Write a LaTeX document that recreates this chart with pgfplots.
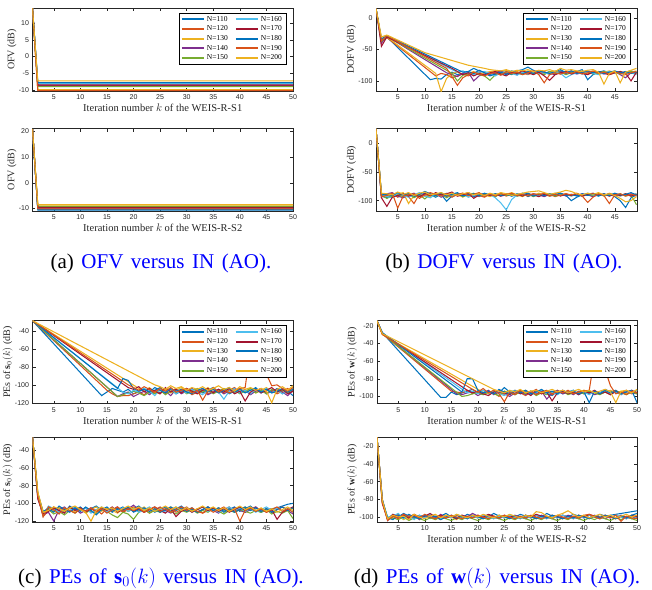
\documentclass[border=0pt]{standalone}
\usepackage{pgfplots}
\pgfplotsset{compat=1.18}
\usepackage{pgfplotstable}
\usepackage{fontspec}
\setmainfont{Liberation Serif}
\newfontfamily\ticksans{Liberation Sans}

\definecolor{c1}{rgb}{0,0.447,0.741}
\definecolor{c2}{rgb}{0.85,0.325,0.098}
\definecolor{c3}{rgb}{0.929,0.694,0.125}
\definecolor{c4}{rgb}{0.494,0.184,0.556}
\definecolor{c5}{rgb}{0.466,0.674,0.188}
\definecolor{c6}{rgb}{0.301,0.745,0.933}
\definecolor{c7}{rgb}{0.635,0.078,0.184}
\definecolor{gray15}{rgb}{0.15,0.15,0.15}

% columns: k, N=110 ... N=200
\pgfplotstableread{
k a b c d e f g h i j
1 14.5 14.5 14.5 14.5 14.5 14.5 14.5 14.5 14.5 14.5
2 -8.2 -10.1 -9.9 -8.7 -9.0 -8.1 -8.5 -7.8 -10.2 -7.3
50 -8.2 -10.1 -9.9 -8.7 -9.0 -8.1 -8.5 -7.8 -10.2 -7.3
}\tblAa

\pgfplotstableread{
k a b c d e f g h i j
1 21 21 21 21 21 21 21 21 21 21
2 -10.6 -10.0 -8.7 -9.9 -9.2 -10.4 -9.6 -10.5 -10.2 -8.5
50 -10.6 -10.0 -8.7 -9.9 -9.2 -10.4 -9.6 -10.5 -10.2 -8.5
}\tblAb

\pgfplotstableread{
k a b c d e f g h i j
1 15 15 15 15 15 15 15 15 15 15
2 -38 -36 -35 -40 -37 -34 -45 -33 -36 -30
3 -30 -31 -30 -29 -29 -28 -30 -28 -28 -27
10 nan nan nan nan nan nan nan nan nan -55
11 -98 nan nan nan nan nan nan nan nan nan
12 -96 -92 -88 nan nan nan nan nan nan nan
13 -97 -88 -117 nan nan nan nan nan nan nan
14 -90 -90 -96 -87 nan nan nan nan -80 nan
15 -86 -95 -88 -90 -88 -82 -80 nan -93 nan
16 -90 -92 -86 -93 -100 -86 -85 -82 -107 nan
17 -88 -89 -90 -88 -91 -84 -90 -86 -95 nan
18 -85 -92 -88 -86 -89 -88 -87 -85 -90 -75
19 -80 -88 -85 -100 -87 -90 -92 -88 -86 nan
20 -84 -86 -90 -92 -90 -86 -88 -83 -89 nan
21 -86 -90 -87 -89 -92 -85 -91 -87 -92 -80
22 -90 -88 -85 -91 -99 -88 -87 -92 -88 -82
23 -88 -86 -84 -87 -90 -92 -85 -89 -87 -83
24 -85 -90 -86 -84 -88 -87 -89 -86 -91 -84
25 -87 -88 -83 -89 -86 -85 -92 -90 -85 -82
26 -90 -85 -87 -86 -89 -88 -86 -84 -88 -85
27 -84 -89 -85 -90 -87 -91 -88 -87 -86 -83
28 -82 -87 -88 -85 -90 -86 -84 -89 -90 -84
29 -78 -90 -84 -88 -86 -89 -87 -85 -87 -82
30 -83 -86 -87 -84 -89 -85 -90 -88 -84 -85
31 -86 -88 -85 -89 -87 -88 -86 -84 -90 -83
32 -88 -85 -89 -86 -90 -87 -92 -86 -103 -84
33 -85 -90 -86 -88 -85 -89 -99 -88 -90 -82
34 -87 -86 -84 -90 -88 -86 -90 -85 -87 -85
35 -84 -89 -87 -85 -86 -88 -87 -82 -89 -80
36 -86 -87 -85 -88 -90 -95 -85 -87 -86 -83
37 -88 -84 -88 -86 -87 -90 -89 -84 -88 -82
38 -85 -88 -86 -89 -85 -87 -86 -88 -85 -84
39 -82 -86 -84 -87 -88 -89 -88 -86 -89 -85
40 -98 -89 -87 -85 -86 -86 -90 -84 -87 -83
41 -90 -85 -85 -88 -89 -88 -86 -87 -84 -82
42 -86 -88 -88 -86 -87 -90 -85 -85 -88 -86
43 -84 -86 -86 -89 -85 -87 -88 -88 -86 -105
44 -87 -90 -84 -87 -88 -85 -90 -86 -89 -88
45 -85 -87 -87 -85 -86 -88 -87 -84 -86 -84
46 -88 -85 -85 -90 -89 -86 -85 -87 -88 -103
47 -86 -88 -88 -95 -87 -89 -88 -85 -90 -86
48 -84 -86 -86 -87 -85 -87 -100 -88 -87 -83
49 -87 -89 -84 -86 -88 -90 -86 -86 -85 -80
}\tblBa

\pgfplotstableread{
k a b c d e f g h i j
1 25 25 25 25 25 25 25 25 25 25
2 -92 -90 -88 -94 -91 -89 -95 -90 -93 -87
3 -95 -92 -90 -88 -96 -93 -110 -89 -91 -88
4 -90 -88 -93 -86 -92 -95 -94 -91 -87 -90
5 -88 -94 -89 -92 -90 -87 -91 -86 -113 -85
6 -92 -90 -86 -95 -93 -91 -88 -90 -92 -89
7 -89 -93 -105 -90 -88 -94 -92 -87 -90 -86
8 -93 -105 -91 -87 -95 -90 -89 -92 -88 -91
9 -91 -89 -88 -93 -90 -86 -93 -89 -96 -87
10 -87 -92 -90 -89 -97 -92 -88 -84 -90 -85
11 -90 -88 -93 -91 -89 -95 -91 -88 -86 -90
12 -94 -91 -87 -88 -92 -89 -86 -91 -89 -88
13 -89 -87 -90 -94 -88 -92 -90 -86 -92 -86
14 -101 -93 -88 -90 -95 -87 -88 -92 -88 -90
15 -92 -88 -91 -87 -90 -93 -85 -89 -94 -87
16 -88 -90 -89 -92 -88 -90 -92 -86 -89 -91
17 -91 -87 -94 -89 -93 -88 -90 -92 -87 -88
18 -89 -92 -88 -86 -90 -94 -87 -89 -91 -86
19 -93 -89 -91 -90 -87 -91 -96 -88 -89 -90
20 -90 -91 -87 -93 -92 -88 -90 -91 -86 -88
21 -88 -94 -90 -88 -89 -92 -88 -87 -93 -91
22 -92 -88 -93 -91 -90 -89 -91 -90 -89 -87
23 -89 -90 -88 -89 -93 -95 -89 -88 -92 -90
24 -91 -87 -91 -92 -88 -104 -92 -91 -88 -86
25 -88 -92 -89 -90 -91 -116 -88 -89 -90 -88
26 -92 -89 -86 -88 -89 -98 -91 -92 -87 -91
27 -90 -91 -90 -92 -92 -90 -89 -88 -91 -89
28 -87 -88 -93 -89 -90 -88 -92 -90 -89 -87
29 -93 -90 -88 -91 -88 -91 -88 -87 -92 -85
30 -89 -92 -91 -88 -93 -89 -90 -92 -88 -84
31 -91 -88 -87 -90 -89 -92 -93 -89 -90 -83
32 -88 -91 -90 -93 -91 -88 -89 -91 -87 -86
33 -92 -89 -92 -89 -88 -90 -91 -88 -92 -89
34 -90 -93 -88 -91 -92 -87 -88 -90 -89 -87
35 -87 -90 -91 -88 -90 -91 -92 -87 -91 -85
36 -91 -88 -89 -92 -89 -89 -89 -91 -88 -82
37 -100 -91 -92 -89 -91 -92 -91 -89 -90 -84
38 -94 -89 -88 -91 -88 -88 -88 -92 -87 -88
39 -90 -92 -91 -88 -92 -91 -92 -88 -92 -90
40 -88 -90 -89 -90 -89 -87 -89 -91 -103 -87
41 -92 -88 -92 -93 -91 -90 -87 -89 -94 -89
42 -89 -91 -88 -89 -88 -92 -91 -92 -88 -86
43 -91 -89 -91 -91 -92 -89 -88 -88 -91 -90
44 -88 -92 -87 -88 -89 -91 -92 -91 -105 -88
45 -93 -88 -90 -92 -91 -88 -89 -87 -90 -91
46 -100 -91 -92 -89 -88 -92 -91 -90 -88 -96
47 -112 -89 -88 -91 -92 -89 -88 -89 -92 -102
48 -95 -92 -91 -88 -90 -91 -92 -86 -89 -100
49 -90 -88 -89 -92 -107 -88 -89 -90 -91 -93
}\tblBb

\pgfplotstableread{
k a b c d e f g h i j
1 -28.5 -28.5 -28.5 -28.5 -28.5 -28.5 -28.5 -28.5 -28.5 -28.5
14 -112 nan nan nan nan nan nan nan nan nan
15 -108 -106 nan nan nan nan nan nan nan nan
16 -104 -110 nan nan nan nan nan nan nan nan
17 -106 -113 nan -113 -113 nan nan -104 nan nan
18 -108 -112 nan -110 -111 -108 nan -93 nan nan
19 -105 -112 nan -108 -109 -110 -103 -95 -100 nan
20 -110 -110 nan -113 -107 -106 -105 -104 -103 nan
21 -107 -108 -104 -110 -109 -108 -102 -107 -106 nan
22 -104 -111 -107 -107 -112 -104 -108 -105 -102 nan
23 -109 -106 -103 -111 -108 -107 -104 -108 -105 nan
24 -106 -109 -108 -106 -110 -112 -107 -103 -108 -100
25 -103 -105 -110 -109 -106 -105 -110 -106 -104 -102
26 -108 -110 -104 -107 -111 -108 -103 -109 -107 -105
27 -105 -107 -109 -112 -107 -104 -108 -104 -103 -101
28 -110 -104 -106 -105 -109 -110 -105 -107 -108 -104
29 -107 -109 -103 -110 -105 -106 -109 -105 -106 -102
30 -104 -106 -108 -107 -110 -109 -104 -108 -104 -106
31 -108 -111 -105 -104 -107 -105 -107 -110 -109 -103
32 -105 -108 -110 -109 -104 -108 -110 -106 -106 -105
33 -109 -104 -107 -106 -108 -111 -106 -104 -117 -102
34 -106 -110 -103 -111 -105 -106 -104 -108 -107 -106
35 -103 -107 -108 -108 -110 -103 -109 -105 -103 -104
36 -108 -105 -106 -105 -107 -108 -105 -109 -108 -101
37 -105 -109 -110 -110 -104 -116 -108 -106 -105 -105
38 -110 -106 -104 -107 -109 -107 -104 -103 -109 -103
39 -107 -103 -109 -104 -106 -104 -110 -108 -106 -107
40 -104 -108 -105 -109 -110 -109 -107 -105 -104 -102
41 -108 -105 -108 -106 -107 -106 -118 -109 -103 -105
42 -106 -110 -104 -111 -104 -110 -108 -106 -60 -103
43 -103 -107 -109 -107 -109 -105 -105 -104 -55 -106
44 -109 -104 -106 -104 -106 -108 -109 -108 -60 -104
45 -105 -109 -103 -110 -110 -104 -106 -105 -88 -107
46 -108 -106 -108 -107 -105 -109 -103 -109 -101 -120
47 -104 -110 -105 -105 -108 -106 -108 -107 -100 -105
48 -110 -107 -109 -108 -106 -110 -105 -104 -104 -102
49 -107 -104 -106 -112 -109 -107 -110 -108 -107 -106
50 -112 -108 -104 -106 -105 -104 -107 -105 -103 -101
}\tblCa

\pgfplotstableread{
k a b c d e f g h i j
1 -25 -25 -25 -25 -25 -25 -25 -25 -25 -25
2 -92 -90 -88 -94 -91 -93 -95 -89 -92 -87
3 -112 -115 -110 -113 -111 -114 -112 -109 -115 -110
4 -104 -108 -105 -110 -107 -103 -109 -106 -104 -108
5 -108 -104 -109 -120 -112 -106 -105 -110 -107 -104
6 -105 -111 -104 -107 -109 -110 -108 -103 -112 -106
7 -110 -106 -108 -104 -113 -105 -111 -107 -105 -109
8 -103 -109 -105 -109 -108 -108 -104 -110 -108 -105
9 -107 -104 -110 -106 -111 -104 -108 -105 -111 -103
10 -104 -108 -106 -111 -106 -109 -105 -109 -106 -107
11 -109 -105 -111 -108 -110 -105 -110 -104 -109 -110
12 -106 -110 -107 -105 -108 -111 -106 -108 -105 -120
13 -103 -107 -104 -109 -112 -107 -109 -113 -110 -108
14 -108 -112 -109 -106 -107 -104 -105 -107 -106 -104
15 -105 -106 -105 -110 -109 -110 -108 -104 -111 -107
16 -110 -109 -108 -107 -113 -106 -104 -109 -107 -105
17 -107 -105 -111 -104 -116 -108 -110 -106 -104 -109
18 -104 -110 -106 -109 -110 -105 -107 -108 -109 -106
19 -109 -107 -109 -106 -112 -109 -105 -104 -106 -103
20 -106 -104 -105 -102 -118 -106 -109 -110 -108 -107
21 -103 -109 -108 -107 -110 -110 -106 -107 -105 -104
22 -108 -106 -104 -110 -107 -107 -110 -105 -110 -108
23 -105 -111 -109 -106 -111 -104 -107 -109 -107 -105
24 -110 -107 -106 -109 -108 -109 -104 -106 -104 -109
25 -107 -104 -110 -105 -110 -106 -108 -110 -109 -106
26 -104 -108 -107 -108 -106 -110 -111 -107 -106 -103
27 -109 -105 -104 -111 -109 -107 -106 -104 -110 -107
28 -106 -110 -108 -107 -112 -104 -115 -108 -107 -104
29 -103 -107 -105 -104 -108 -108 -109 -105 -104 -108
30 -108 -104 -109 -109 -110 -105 -106 -109 -108 -105
31 -105 -109 -106 -106 -107 -110 -110 -106 -105 -109
32 -110 -106 -110 -110 -111 -107 -107 -110 -109 -106
33 -107 -111 -107 -107 -108 -104 -104 -107 -111 -103
34 -104 -108 -104 -104 -110 -109 -108 -104 -106 -107
35 -108 -105 -108 -108 -106 -106 -105 -108 -110 -104
36 -105 -110 -105 -111 -109 -110 -109 -105 -107 -108
37 -110 -107 -109 -106 -112 -107 -106 -109 -104 -105
38 -107 -104 -106 -109 -108 -104 -110 -106 -109 -109
39 -104 -109 -110 -105 -110 -108 -107 -110 -106 -106
40 -109 -106 -107 -108 -107 -105 -104 -107 -120 -103
41 -106 -110 -104 -110 -109 -109 -108 -104 -108 -107
42 -103 -107 -108 -107 -111 -106 -105 -108 -105 -104
43 -108 -104 -105 -104 -108 -110 -109 -105 -109 -108
44 -110 -109 -109 -109 -110 -107 -106 -109 -106 -105
45 -107 -106 -106 -106 -107 -104 -110 -106 -110 -109
46 -106 -110 -110 -110 -112 -108 -107 -110 -107 -106
47 -105 -107 -107 -107 -109 -105 -118 -107 -104 -110
48 -103 -104 -104 -104 -111 -109 -110 -104 -109 -107
49 -101 -108 -108 -108 -108 -106 -107 -108 -106 -104
50 -100 -105 -105 -112 -117 -110 -104 -105 -110 -108
}\tblCb

\pgfplotstableread{
k a b c d e f g h i j
1 -14.5 -14.5 -14.5 -14.5 -14.5 -14.5 -14.5 -14.5 -14.5 -14.5
2 -28 -29 -30 -28 -29 -28 -29 -28 -30 -29
13 -101 nan nan nan nan nan nan nan nan nan
14 -101 nan nan nan nan nan nan nan nan nan
15 -95 -94 nan nan nan nan nan nan nan nan
16 -98 -95 nan -97 nan nan nan nan nan nan
17 -96 -96 nan -98 -100 nan nan -95 nan nan
18 -94 -93 nan -96 -99 -96 -93 -80 nan nan
19 -92 -97 nan -95 -97 -94 -96 -80 -92 nan
20 -96 -95 -92 -99 -96 -97 -94 -93 -95 nan
21 -93 -98 -95 -96 -98 -93 -97 -96 -91 nan
22 -97 -94 -97 -93 -95 -96 -99 -94 -96 nan
23 -94 -96 -93 -98 -97 -94 -95 -97 -93 -92
24 -96 -100 -96 -95 -99 -97 -93 -92 -97 -94
25 -90 -94 -98 -97 -94 -99 -96 -95 -106 -96
26 -95 -97 -94 -100 -96 -95 -98 -97 -95 -93
27 -98 -93 -97 -96 -98 -93 -94 -94 -98 -95
28 -93 -96 -95 -94 -95 -97 -97 -96 -93 -92
29 -96 -99 -93 -98 -97 -94 -95 -93 -96 -96
30 -94 -95 -96 -95 -94 -98 -99 -97 -94 -94
31 -97 -92 -98 -97 -99 -96 -93 -95 -98 -93
32 -93 -97 -94 -94 -96 -93 -97 -92 -95 -96
33 -96 -94 -97 -103 -98 -97 -95 -96 -93 -94
34 -99 -98 -95 -96 -95 -95 -105 -94 -97 -92
35 -94 -95 -93 -93 -97 -98 -96 -97 -94 -95
36 -97 -93 -96 -97 -94 -94 -94 -93 -96 -93
37 -95 -96 -94 -95 -98 -96 -97 -96 -93 -96
38 -93 -94 -97 -98 -96 -93 -95 -94 -97 -94
39 -98 -97 -95 -94 -95 -97 -98 -97 -95 -92
40 -95 -93 -93 -97 -97 -95 -94 -95 -94 -95
41 -97 -96 -96 -95 -94 -98 -96 -107 -93 -93
42 -94 -94 -94 -98 -96 -94 -93 -94 -55 -96
43 -96 -97 -97 -96 -98 -96 -97 -97 -55 -94
44 -92 -95 -95 -93 -95 -93 -95 -93 -70 -92
45 -95 -98 -93 -97 -97 -97 -98 -96 -88 -95
46 -93 -94 -96 -95 -94 -95 -94 -94 -97 -107
47 -97 -96 -94 -98 -96 -98 -97 -97 -95 -94
48 -94 -93 -97 -94 -98 -94 -95 -95 -98 -93
49 -96 -97 -95 -96 -95 -96 -93 -93 -94 -96
50 -93 -95 -93 -97 -97 -93 -96 -107 -96 -92
}\tblDa

\pgfplotstableread{
k a b c d e f g h i j
1 -9.5 -9.5 -9.5 -9.5 -9.5 -9.5 -9.5 -9.5 -9.5 -9.5
2 -82 -80 -84 -81 -83 -82 -85 -80 -83 -81
3 -102 -103 -101 -104 -102 -100 -103 -101 -104 -102
4 -97 -100 -102 -98 -101 -99 -97 -103 -99 -98
5 -100 -97 -99 -101 -103 -96 -100 -98 -102 -100
6 -96 -101 -103 -97 -100 -102 -98 -101 -97 -99
7 -99 -98 -100 -102 -104 -99 -101 -97 -100 -103
8 -101 -102 -97 -99 -101 -103 -97 -100 -98 -97
9 -98 -99 -101 -103 -102 -98 -100 -102 -101 -100
10 -100 -101 -98 -98 -104 -101 -99 -98 -97 -102
11 -97 -98 -102 -100 -101 -97 -96 -101 -100 -99
12 -101 -100 -99 -102 -103 -100 -100 -99 -102 -97
13 -99 -103 -101 -97 -100 -102 -98 -103 -99 -101
14 -96 -99 -98 -101 -102 -99 -101 -100 -101 -98
15 -100 -101 -100 -99 -104 -101 -99 -98 -98 -100
16 -98 -98 -103 -102 -101 -97 -102 -101 -100 -97
17 -101 -100 -99 -98 -103 -100 -98 -99 -102 -99
18 -97 -102 -101 -100 -100 -102 -100 -102 -99 -101
19 -99 -99 -98 -96 -102 -99 -101 -98 -101 -98
20 -101 -101 -100 -99 -104 -101 -98 -100 -98 -100
21 -98 -98 -102 -101 -101 -98 -100 -102 -100 -97
22 -100 -100 -99 -98 -103 -100 -97 -99 -102 -99
23 -96 -102 -101 -100 -100 -102 -99 -101 -99 -101
24 -99 -99 -98 -102 -102 -99 -101 -98 -101 -98
25 -101 -101 -100 -99 -104 -101 -98 -100 -98 -100
26 -98 -98 -102 -101 -101 -98 -100 -102 -100 -97
27 -100 -100 -99 -98 -103 -100 -99 -99 -102 -99
28 -97 -102 -101 -100 -100 -102 -101 -101 -99 -101
29 -99 -99 -98 -102 -102 -99 -98 -98 -101 -98
30 -101 -101 -100 -99 -104 -101 -100 -100 -98 -100
31 -98 -98 -102 -101 -101 -98 -97 -102 -100 -94
32 -100 -100 -99 -98 -103 -100 -99 -99 -102 -95
33 -96 -102 -101 -100 -100 -102 -101 -101 -99 -99
34 -99 -99 -98 -102 -102 -99 -98 -98 -101 -101
35 -101 -101 -100 -99 -104 -101 -100 -100 -98 -98
36 -98 -98 -102 -101 -101 -98 -102 -102 -100 -96
37 -100 -100 -99 -98 -103 -100 -99 -99 -102 -93
38 -97 -102 -101 -100 -100 -102 -101 -101 -99 -97
39 -99 -99 -98 -102 -102 -99 -98 -98 -101 -100
40 -101 -101 -100 -99 -104 -101 -100 -100 -98 -98
41 -98 -98 -102 -101 -101 -98 -97 -102 -97 -101
42 -100 -100 -99 -98 -103 -100 -99 -99 -100 -99
43 -97 -102 -101 -100 -100 -102 -101 -101 -102 -97
44 -99 -99 -98 -102 -102 -99 -98 -98 -99 -100
45 -98 -101 -100 -99 -104 -101 -100 -100 -101 -98
46 -97 -98 -102 -101 -101 -98 -102 -102 -98 -101
47 -96 -100 -99 -98 -103 -100 -99 -99 -105 -99
48 -95 -102 -101 -100 -100 -102 -101 -101 -99 -97
49 -94 -99 -98 -102 -102 -99 -98 -98 -101 -100
50 -93 -101 -100 -99 -104 -101 -100 -96 -102 -98
}\tblDb

\newcommand\drawall[1]{%
  \addplot[c1,forget plot] table[y index=1]{#1};
  \addplot[c2,forget plot] table[y index=2]{#1};
  \addplot[c3,forget plot] table[y index=3]{#1};
  \addplot[c4,forget plot] table[y index=4]{#1};
  \addplot[c5,forget plot] table[y index=5]{#1};
  \addplot[c6,forget plot] table[y index=6]{#1};
  \addplot[c7,forget plot] table[y index=7]{#1};
  \addplot[c1,forget plot] table[y index=8]{#1};
  \addplot[c2,forget plot] table[y index=9]{#1};
  \addplot[c3,forget plot] table[y index=10]{#1};
}
\newcommand\legendall{%
  \addlegendimage{c1}\addlegendentry{N=110}
  \addlegendimage{c6}\addlegendentry{N=160}
  \addlegendimage{c2}\addlegendentry{N=120}
  \addlegendimage{c7}\addlegendentry{N=170}
  \addlegendimage{c3}\addlegendentry{N=130}
  \addlegendimage{c1}\addlegendentry{N=180}
  \addlegendimage{c4}\addlegendentry{N=140}
  \addlegendimage{c2}\addlegendentry{N=190}
  \addlegendimage{c5}\addlegendentry{N=150}
  \addlegendimage{c3}\addlegendentry{N=200}
}

\pgfplotsset{
  panel/.style={
    scale only axis, width=260.5pt, height=83pt,
    xmin=1, xmax=50, xtick={5,10,...,50},
    axis line style={gray15, line width=0.5pt},
    every tick/.style={gray15, line width=0.5pt},
    major tick length=3pt,
    tick label style={font=\ticksans\fontsize{7}{8}\selectfont, text=gray15},
    /pgf/number format/assume math mode=true,
    xlabel style={font=\fontsize{10.5}{12}\selectfont, text=gray15, yshift=2pt},
    ylabel style={font=\fontsize{10}{12}\selectfont, text=gray15, yshift=-4.5pt},
    every axis plot/.append style={line width=1.05pt, mark=none},
    legend cell align=left, legend columns=2,
    legend image code/.code={\draw[#1,line width=2pt] (0pt,0pt) -- (22pt,0pt);},
    legend style={draw=black, line width=0.5pt, fill=white,
      font=\fontsize{7.5}{8}\selectfont, inner xsep=2pt, inner ysep=1.5pt,
      row sep=-0.9pt,
      /tikz/every even column/.append style={column sep=5pt},
      at={(1,1)}, anchor=north east, xshift=-7pt, yshift=-4.5pt},
  },
}

\begin{document}
\begin{tikzpicture}
\path[use as bounding box] (0pt,0pt) rectangle (652pt,-589pt);

% (a)
\begin{axis}[panel, at={(32.5pt,-8pt)}, anchor=north west,
  ymin=-10.3, ymax=14.5, ytick={-10,-5,0,5,10},
  xlabel={Iteration number $k$ of the WEIS-R-S1}, ylabel={OFV (dB)}]
\drawall{\tblAa}
\legendall
\end{axis}
\begin{axis}[panel, at={(32.5pt,-128.5pt)}, anchor=north west, height=82.5pt,
  ymin=-11, ymax=21.2, ytick={-10,0,10,20},
  xlabel={Iteration number $k$ of the WEIS-R-S2}, ylabel={OFV (dB)}]
\drawall{\tblAb}
\end{axis}

% (b)
\begin{axis}[panel, at={(376pt,-8pt)}, anchor=north west, width=261pt,
  xmax=49.1, xtick={5,10,...,45},
  ymin=-116, ymax=16, ytick={-100,-50,0},
  xlabel={Iteration number $k$ of the WEIS-R-S1}, ylabel={DOFV (dB)}]
\drawall{\tblBa}
\legendall
\end{axis}
\begin{axis}[panel, at={(376pt,-128.5pt)}, anchor=north west, width=261pt, height=82.5pt,
  xmax=49.1, xtick={5,10,...,45},
  ymin=-118, ymax=25.5, ytick={-100,-50,0},
  xlabel={Iteration number $k$ of the WEIS-R-S2}, ylabel={DOFV (dB)}]
\drawall{\tblBb}
\end{axis}

% (c)
\begin{axis}[panel, at={(32.5pt,-320.7pt)}, anchor=north west,
  ymin=-121, ymax=-28.5, ytick={-120,-100,...,-40},
  xlabel={Iteration number $k$ of the WEIS-R-S1}, ylabel={PEs of $\mathbf{s}_0(k)$ (dB)}]
\drawall{\tblCa}
\legendall
\end{axis}
\begin{axis}[panel, at={(32.5pt,-437pt)}, anchor=north west, height=85pt,
  ymin=-121, ymax=-25.2, ytick={-120,-100,...,-40},
  xlabel={Iteration number $k$ of the WEIS-R-S2}, ylabel={PEs of $\mathbf{s}_0(k)$ (dB)}]
\drawall{\tblCb}
\end{axis}

% (d)
\begin{axis}[panel, at={(377pt,-320.7pt)}, anchor=north west, width=260pt,
  ymin=-108.2, ymax=-14.4, ytick={-100,-80,...,-20},
  xlabel={Iteration number $k$ of the WEIS-R-S1}, ylabel={PEs of $\mathbf{w}(k)$ (dB)}]
\drawall{\tblDa}
\legendall
\end{axis}
\begin{axis}[panel, at={(377pt,-437pt)}, anchor=north west, width=260pt, height=85pt,
  ymin=-105.7, ymax=-9.5, ytick={-100,-80,...,-20},
  xlabel={Iteration number $k$ of the WEIS-R-S2}, ylabel={PEs of $\mathbf{w}(k)$ (dB)}]
\drawall{\tblDb}
\end{axis}

% captions
\begin{scope}[every node/.style={anchor=base, font=\fontsize{21}{24}\selectfont}]
\node at (161pt,-268.3pt) {\spaceskip=7.5pt (a) \textcolor{blue}{OFV versus IN (AO).}};
\node at (504pt,-268.3pt) {\spaceskip=7.5pt (b) \textcolor{blue}{DOFV versus IN (AO).}};
\node at (161pt,-583pt) {\spaceskip=7.5pt (c) \textcolor{blue}{PEs of $\mathbf{s}_0(k)$ versus IN (AO).}};
\node at (497pt,-583pt) {\spaceskip=7.5pt (d) \textcolor{blue}{PEs of $\mathbf{w}(k)$ versus IN (AO).}};
\end{scope}
\end{tikzpicture}
\end{document}
